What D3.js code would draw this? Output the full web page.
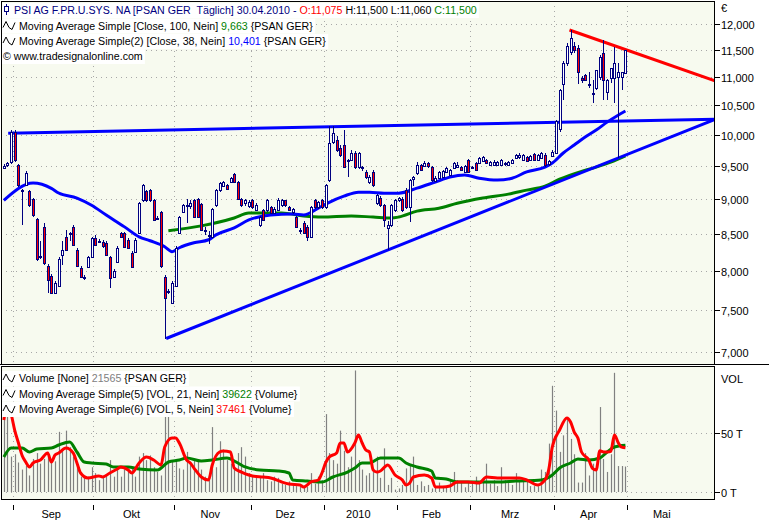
<!DOCTYPE html>
<html><head><meta charset="utf-8">
<script src="https://cdn.jsdelivr.net/npm/d3@7"></script>
<style>
html,body{margin:0;padding:0;background:#fff;}
svg{display:block;font-family:"Liberation Sans",Arial,sans-serif;font-size:11px;}
text{white-space:pre;}
.lg text{font-size:10.65px;}
</style></head><body>
<svg id="c" width="769" height="520"></svg>
<script>
// ---------- DATA ----------
// daily candles [open, high, low, close], 27.08.2009 .. 30.04.2010
const ohlc = [
[9480,9530,9450,9510],[9520,9570,9480,9550],[9564,10080,9540,10045],[10045,10080,9570,9596],
[9518,9540,9180,9208],[9133,9150,8626,9118],[9208,9420,9190,9395],[9118,9140,8880,8909],
[9000,9020,8740,8767],[8710,8730,8130,8160],[8190,8400,8150,8180],[8598,8650,8080,8108],
[8068,8090,7717,7883],[7935,7960,7700,7717],[7717,7860,7700,7844],[7806,8180,7790,8160],
[8214,8400,8080,8282],[8458,8560,8260,8282],[8514,8530,8400,8500],[8598,8620,8330,8349],
[8282,8300,8050,8068],[8042,8060,7900,7922],[7909,7940,7880,7922],[8055,8200,8040,8187],
[8187,8460,8170,8444],[8444,8480,8330,8349],[8390,8430,8370,8404],[8390,8410,8310,8330],
[8376,8400,8200,8214],[8187,8200,7780,7909],[7922,8020,7900,8000],[8121,8330,8100,8308],
[8514,8530,8440,8458],[8514,8530,8300,8322],[8418,8440,8290,8308],[8241,8260,8040,8055],
[8260,8440,8240,8418],[8514,8960,8500,8938],[8982,9230,8960,9208],[9118,9140,8960,8982],
[9133,9150,8960,8982],[8982,9000,8680,8696],[8724,8760,8690,8710],[8810,8830,8040,8068],
[7922,7940,7157,7654],[7742,7760,7700,7730],[7593,7860,7580,7844],[7806,8330,7790,8308],
[8514,8760,8500,8738],[8810,8930,8790,8909],[8900,9000,8650,8910],[8900,8990,8850,8938],
[8982,9000,8720,8738],[9000,9020,8720,8738],[8924,8940,8540,8556],[8560,8600,8480,8550],
[8480,8540,8360,8460],[8458,8870,8440,8852],[8909,9150,8890,9133],[9133,9260,9110,9240],
[9200,9270,9180,9255],[9208,9230,9130,9148],[9255,9330,9240,9310],[9380,9400,9240,9255],
[9255,9270,8980,9000],[9000,9020,8890,8909],[8938,9000,8900,8982],[8900,8990,8870,8960],
[8982,9000,8860,8880],[8838,8940,8820,8909],[8626,8760,8600,8738],[8838,8850,8680,8696],
[8838,9000,8810,8982],[8880,8900,8780,8800],[8800,8880,8780,8860],[8838,9010,8820,8982],
[8909,8995,8880,8982],[8980,8990,8880,8900],[8880,8900,8820,8838],[8800,8870,8780,8850],
[8738,8760,8580,8598],[8560,8580,8500,8540],[8653,8680,8500,8514],[8598,8620,8404,8458],
[8458,8900,8440,8880],[8982,9000,8860,8880],[8880,8970,8860,8950],[8982,9000,8850,8880],
[8880,9230,8860,9208],[9285,10150,9260,9870],[9885,10150,9850,10030],[9917,9990,9730,9756],
[9788,9830,9640,9676],[9836,10080,9470,9486],[9596,9620,9330,9580],[9596,9756,9580,9708],
[9708,9740,9460,9486],[9486,9730,9460,9708],[9486,9500,9420,9471],[9410,9440,9300,9330],
[9255,9360,9230,9330],[9410,9440,9180,9208],[8938,9080,8910,9058],[9015,9040,8880,8909],
[8909,8930,8600,8696],[8584,8680,8282,8626],[8626,8930,8600,8909],[8838,9000,8810,8982],
[8982,9030,8950,9010],[9000,9030,8810,8838],[9133,9160,8860,8880],[8880,9300,8670,9285],
[9300,9350,9200,9330],[9395,9560,9360,9518],[9518,9540,9420,9440],[9500,9580,9480,9548],
[9548,9570,9470,9500],[9486,9500,9260,9285],[9270,9340,9250,9320],[9316,9430,9300,9410],
[9330,9440,9310,9420],[9410,9490,9390,9471],[9362,9460,9350,9440],[9471,9560,9450,9548],
[9486,9560,9470,9518],[9486,9500,9420,9440],[9410,9520,9390,9500],[9596,9620,9390,9410],
[9471,9500,9450,9486],[9548,9560,9420,9440],[9548,9640,9530,9628],[9580,9660,9560,9644],
[9596,9610,9530,9548],[9518,9580,9500,9564],[9520,9600,9500,9560],[9518,9580,9500,9564],
[9518,9610,9500,9596],[9530,9570,9510,9548],[9518,9580,9500,9564],[9548,9610,9530,9596],
[9628,9690,9610,9676],[9640,9700,9620,9676],[9596,9690,9580,9676],[9644,9660,9560,9580],
[9596,9680,9580,9660],[9690,9710,9580,9596],[9596,9690,9580,9676],[9628,9720,9610,9700],
[9676,9700,9480,9518],[9540,9600,9510,9580],[9660,9756,9640,9724],[9710,10250,9690,10230],
[10100,10790,10050,10760],[10880,11300,10590,11260],[11260,11630,11200,11570],[11450,11880,11400,11720],
[11570,11650,11450,11500],[11530,11600,10880,11090],[10990,11020,10900,10960],[11035,11060,10920,10950],
[10880,11090,10800,10855],[10720,10945,10540,10700],[10800,11125,10760,11125],[10990,11400,10950,11360],
[11450,11690,10590,10950],[10730,10960,10590,10945],[10990,11165,10900,11165],[10990,11550,10540,11260],
[11000,11260,9630,11090],[11000,11090,10765,11090],[11075,11500,11060,11500]
];
// daily volume, thousands of shares
const volumeK = [
68,72,30,32,25,19,22,14, 28,33,24,28,30,27,26,51, 36,52,38,30,21,13,12,13,
21,16,10,13,14,27,13,19, 13,19,20,21,13,30,33,27, 31,21,17,14,78,68,27,27,
20,19,34,24,28,28,19,13, 14,55,21,43,36,27,24,19, 33,38,30,16,13,12,13,16,
10,9,13,12,7,6,9,6, 5,4.5,5,4.5,16,7,13,10, 66,33,27,24,52,35,21,30,
103,27,19,14,16,20,30,12, 37,6,12,2,3,6,20,23, 30,6,9,5,6,3,4,8,
5,5,9,17,10,8,4,9, 8,13,8,12,24,7,10,5, 21,10,8,6,16,10,9,10,
5,5,5,19,17,41,90,69, 34,48,63,45,32,8,8,33, 14,24,18,72,28,17,32,101,
22,22,21.565
];
// moving averages: [bar index, value]
const ma38 = [[0,8982],[8,9240],[13,9160],[15,9090],[20,9015],[24,8909],[28,8767],[33,8598],[37,8458],[40,8404],[44,8322],[46,8255],[48,8308],[52,8376],[56,8418],[58,8486],[63,8584],[67,8696],[73,8767],[79,8781],[82,8767],[86,8866],[89,8952],[93,9043],[97,9103],[100,9103],[104,9088],[108,9088],[113,9163],[118,9255],[122,9330],[126,9362],[130,9314],[135,9285],[139,9314],[143,9410],[148,9486],[150,9548],[153,9708],[156,9836],[159,9966],[162,10080],[165,10213],[168,10330],[170,10401]];
const ma100 = [[45,8542],[54,8612],[63,8725],[67,8795],[76,8795],[82,8753],[87,8738],[95,8753],[101,8738],[106,8725],[108,8738],[113,8823],[119,8866],[124,8938],[131,9015],[138,9073],[143,9133],[148,9193],[152,9300],[158,9420],[162,9486],[166,9564],[170,9663]];
const volMa21K = [[0,29.6],[2,37.3],[5,37.3],[7,33.9],[9,36.4],[13,37.3],[15,39.8],[18,42.4],[20,33.9],[22,25.4],[24,24.6],[28,23.7],[30,21.2],[34,21.2],[37,19.5],[42,18.6],[45,25.4],[48,27.1],[50,28.8],[54,26.3],[57,27.1],[61,28.8],[64,24.6],[66,21.2],[70,18.6],[75,17.8],[78,16.1],[79,10.2],[83,9.3],[87,8.5],[90,12.7],[94,16.9],[96,20.3],[98,24.6],[100,24.6],[103,28.8],[108,28.8],[110,24.6],[113,21.2],[117,17.8],[118,11.9],[121,11],[124,8.5],[130,8.5],[135,8.5],[140,9.3],[147,10.2],[150,14.4],[152,20.3],[155,24.6],[157,28],[160,27.1],[163,28.8],[165,33.9],[167,38.1],[170,39.622]];
const volMa5K = [[0,61],[1,74],[2,66],[3,52],[4,41.5],[5,31],[6,25.4],[7,21.2],[8,24.6],[10,27.1],[12,33],[13,25.4],[14,31.3],[15,33],[17,37.3],[19,33],[20,24.6],[21,16.1],[23,11.9],[26,13.6],[27,12.7],[29,16.1],[31,19.5],[32,21.2],[34,18.6],[35,16.1],[37,24.6],[39,29.6],[41,27.1],[43,22.9],[44,38.1],[46,45.7],[47,45.7],[48,41.5],[50,27.1],[51,24.6],[52,20.3],[54,12.7],[56,10.2],[57,22.9],[59,33.9],[60,34.7],[62,33.9],[63,20.3],[65,16.9],[67,14.4],[68,13.6],[71,12.7],[73,11.9],[76,8.5],[78,6.8],[81,5.9],[82,4.2],[84,8.5],[86,10.2],[87,16.1],[88,24.6],[89,29.6],[91,33],[92,41.5],[93,41.5],[94,33.9],[96,41.5],[97,48.3],[98,41.5],[99,35.6],[100,33.9],[101,18.6],[102,16.9],[103,17.8],[105,22.9],[107,14.4],[109,10.2],[110,5.9],[111,7.6],[112,12.7],[115,14.4],[117,11.9],[118,4.2],[120,4.2],[122,5.1],[124,8.5],[127,8.5],[130,7.6],[132,12.7],[135,11.9],[138,11.9],[141,11.9],[143,10.2],[146,5.9],[148,10.2],[149,18.6],[150,38.1],[152,52.5],[154,62.7],[155,59.3],[156,50.8],[157,45.7],[158,33.9],[160,27.1],[161,20],[162,18.6],[163,35],[164,34],[165,33.9],[166,34.5],[167,48.3],[168,42],[169,38],[170,37.461]];
// trend lines: [bar index, price]
const trendTop = [[1.7,10030],[195,10260]];
const trendSupport = [[44.9,7157],[195,10260]];
const trendRed = [[155.2,11882],[195,10930]];
// axes
const priceTicks = [7000,7500,8000,8500,9000,9500,10000,10500,11000,11500,12000];
const volTicks = [0,50000];
const volTickLabels = ["0 T","50 T"];
const monthStarts = [3,25,47,68,88,108,128,151,171,191];
const monthLabels = ["Sep","Okt","Nov","Dez","2010","Feb","Mrz","Apr","Mai"];
const totalSlots = 195;

// ---------- DRAW ----------
const svg = d3.select('#c');
const L=1, R=715, mT=1, mB=364, vT=366, vB=500;
const BG='#F7FAEF', NAVY='#000080';
const x = d3.scaleLinear().domain([0,totalSlots]).range([2,715]);
const cx = i => x(i+0.5);
const y = d3.scaleLog().domain([7000,12000]).range([352,24]);
const yv = d3.scaleLinear().domain([0,50000]).range([492,433]);

svg.append('rect').attr('width',769).attr('height',520).attr('fill','#fff');
svg.append('rect').attr('x',L).attr('y',mT).attr('width',R-L).attr('height',mB-mT).attr('fill',BG);
svg.append('rect').attr('x',L).attr('y',vT).attr('width',R-L).attr('height',vB-vT).attr('fill',BG);

const defs = svg.append('defs');
defs.append('clipPath').attr('id','cm').append('rect').attr('x',L).attr('y',mT).attr('width',R-L).attr('height',mB-mT);
defs.append('clipPath').attr('id','cv').append('rect').attr('x',L).attr('y',vT).attr('width',R-L).attr('height',vB-vT);

// grid
const grid = svg.append('g').attr('stroke','#a8a8a8').attr('stroke-width',1).attr('stroke-dasharray','1,4').attr('shape-rendering','crispEdges');
priceTicks.forEach(v=>{const yy=Math.round(y(v))+0.5;grid.append('line').attr('x1',L).attr('x2',R).attr('y1',yy).attr('y2',yy);});
volTicks.forEach(v=>{const yy=Math.round(yv(v))+0.5;grid.append('line').attr('x1',L).attr('x2',R).attr('y1',yy).attr('y2',yy);});
monthStarts.slice(0,9).forEach(m=>{const xx=Math.round(x(m))+0.5;
  grid.append('line').attr('x1',xx).attr('x2',xx).attr('y1',mT).attr('y2',mB);
  grid.append('line').attr('x1',xx).attr('x2',xx).attr('y1',vT).attr('y2',vB);});

// volume
const gv = svg.append('g').attr('clip-path','url(#cv)');
gv.append('g').attr('stroke','#808080').attr('stroke-width',1.2).selectAll('line').data(volumeK).join('line')
  .attr('x1',(d,i)=>Math.round(cx(i))+0.5).attr('x2',(d,i)=>Math.round(cx(i))+0.5)
  .attr('y1',yv(0)).attr('y2',d=>yv(d*1000));
const lineV = d3.line().x(d=>cx(d[0])).y(d=>yv(d[1]*1000)).curve(d3.curveMonotoneX);
gv.append('path').attr('d',lineV(volMa21K)).attr('fill','none').attr('stroke','#008000').attr('stroke-width',3);
gv.append('path').attr('d',lineV(volMa5K)).attr('fill','none').attr('stroke','#ff0000').attr('stroke-width',3);

// price panel
const gm = svg.append('g').attr('clip-path','url(#cm)');
const lineP = d3.line().x(d=>cx(d[0])).y(d=>y(d[1])).curve(d3.curveMonotoneX);
gm.append('path').attr('d',lineP(ma100)).attr('fill','none').attr('stroke','#008000').attr('stroke-width',3);
gm.append('path').attr('d',lineP(ma38)).attr('fill','none').attr('stroke','#0000ff').attr('stroke-width',3);
const lineT = d3.line().x(d=>x(d[0])).y(d=>y(d[1]));
gm.append('path').attr('d',lineT(trendTop)).attr('fill','none').attr('stroke','#0000ff').attr('stroke-width',3);
gm.append('path').attr('d',lineT(trendSupport)).attr('fill','none').attr('stroke','#0000ff').attr('stroke-width',3);
gm.append('path').attr('d',lineT(trendRed)).attr('fill','none').attr('stroke','#ff0000').attr('stroke-width',3);

const gc = gm.append('g').attr('shape-rendering','crispEdges');
ohlc.forEach((d,i)=>{
  const [o,h,l,c]=d; const left=Math.round(cx(i))-1;
  gc.append('line').attr('x1',left+1.5).attr('x2',left+1.5).attr('y1',y(h)).attr('y2',y(l)).attr('stroke',NAVY);
  const top=Math.min(y(o),y(c)), hh=Math.max(1,Math.abs(y(o)-y(c)));
  gc.append('rect').attr('x',left+0.5).attr('y',Math.round(top)+0.5).attr('width',2).attr('height',Math.max(1,Math.round(hh)))
    .attr('fill',c>=o?'#ffffff':'#ff0000').attr('stroke',NAVY).attr('stroke-width',1);
});

// frames
const fr = svg.append('g').attr('fill','none').attr('stroke','#000').attr('shape-rendering','crispEdges');
fr.append('rect').attr('x',L+0.5).attr('y',mT+0.5).attr('width',R-L-1).attr('height',mB-mT);
fr.append('line').attr('x1',0).attr('x2',769).attr('y1',mB+0.5).attr('y2',mB+0.5);
fr.append('rect').attr('x',L+0.5).attr('y',vT+0.5).attr('width',R-L-1).attr('height',vB-vT-1);

// right axes
const ax = svg.append('g').attr('fill','#000');
priceTicks.forEach(v=>{const yy=Math.round(y(v))+0.5;
  ax.append('line').attr('x1',R).attr('x2',R+5).attr('y1',yy).attr('y2',yy).attr('stroke','#000').attr('shape-rendering','crispEdges');
  ax.append('text').attr('x',R+6).attr('y',yy+4).text(d3.format(',')(v));});
ax.append('text').attr('x',R+6).attr('y',12).text('€');
volTicks.forEach((v,k)=>{const yy=Math.round(yv(v))+0.5;
  ax.append('line').attr('x1',R).attr('x2',R+5).attr('y1',yy).attr('y2',yy).attr('stroke','#000').attr('shape-rendering','crispEdges');
  ax.append('text').attr('x',R+6).attr('y',yy+4).text(volTickLabels[k]);});
ax.append('text').attr('x',R+6).attr('y',383).text('VOL');

// bottom axis
const bx = svg.append('g');
monthStarts.slice(0,9).forEach(m=>{const xx=Math.round(x(m))+0.5;
  bx.append('line').attr('x1',xx).attr('x2',xx).attr('y1',505).attr('y2',510).attr('stroke','#000').attr('shape-rendering','crispEdges');});
monthLabels.forEach((t,k)=>{bx.append('text').attr('x',(x(monthStarts[k])+x(monthStarts[k+1]))/2-2).attr('y',518).attr('text-anchor','middle').text(t);});

// legends
function legend(yb, tx, parts, icon){
  const g = svg.append('g').attr('class','lg');
  const bg = g.append('rect').attr('fill','#fff');
  if(icon==='wave'){
    g.append('path').attr('d',`M3,${yb-2} L6,${yb-8} L9,${yb-2} L12,${yb+0} L15,${yb-7}`).attr('fill','none').attr('stroke','#000').attr('stroke-width',1);
  } else if(icon==='candle'){
    g.append('line').attr('x1',6.5).attr('x2',6.5).attr('y1',yb-10).attr('y2',yb+1).attr('stroke',NAVY);
    g.append('rect').attr('x',4.5).attr('y',yb-7.5).attr('width',4).attr('height',5).attr('fill','#fff').attr('stroke',NAVY);
  }
  const t = g.append('text').attr('x',tx).attr('y',yb);
  parts.forEach(p=>t.append('tspan').attr('fill',p[1]).text(p[0]));
  const bb = t.node().getBBox();
  bg.attr('x',2).attr('y',yb-11).attr('width',bb.x+bb.width-2+2).attr('height',15);
}
legend(14,14,[["PSI AG F.PR.U.SYS. NA [PSAN GER  Täglich] 30.04.2010 - ",NAVY],["O:11,075","#ff0000"],[" H:11,500 L:11,060 ","#000"],["C:11,500","#008000"]],'candle');
legend(29.5,19,[["Moving Average Simple [Close, 100, Nein] ","#000"],["9,663","#008000"],[" {PSAN GER}","#000"]],'wave');
legend(45,19,[["Moving Average Simple(2) [Close, 38, Nein] ","#000"],["10,401","#0000ff"],[" {PSAN GER}","#000"]],'wave');
legend(60,3,[["© www.tradesignalonline.com","#000"]],null);
legend(382,19,[["Volume [None] ","#000"],["21565","#808080"],[" {PSAN GER}","#000"]],'wave');
legend(397.5,19,[["Moving Average Simple(5) [VOL, 21, Nein] ","#000"],["39622","#008000"],[" {Volume}","#000"]],'wave');
legend(413,19,[["Moving Average Simple(6) [VOL, 5, Nein] ","#000"],["37461","#ff0000"],[" {Volume}","#000"]],'wave');
</script>
</body></html>
